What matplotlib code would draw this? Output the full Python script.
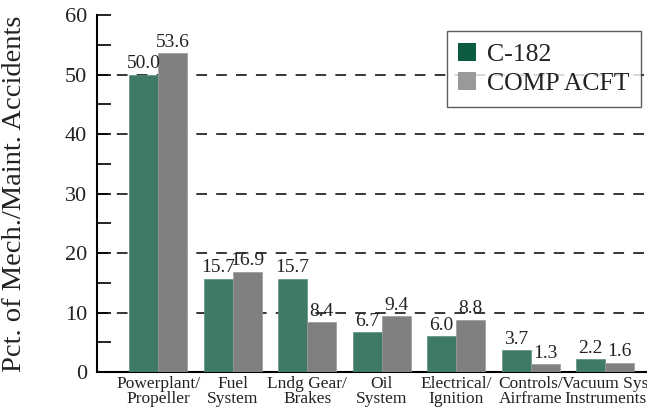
import numpy as np
import matplotlib
matplotlib.use('Agg')
import matplotlib.pyplot as plt
from matplotlib.patches import Patch

categories = ['Powerplant/\nPropeller', 'Fuel\nSystem', 'Lndg Gear/\nBrakes', 'Oil\nSystem',
              'Electrical/\nIgnition', 'Controls/\nAirframe', 'Vacuum Sys\nInstruments']
c182 = [50.0, 15.7, 15.7, 6.7, 6.0, 3.7, 2.2]
comp_acft = [53.6, 16.9, 8.4, 9.4, 8.8, 1.3, 1.6]
series_names = ['C-182', 'COMP ACFT']

plt.rcParams['font.family'] = ['Liberation Serif', 'DejaVu Serif']

green = '#3f7a66'
gray = '#808080'

fig = plt.figure(figsize=(6.47, 4.2), dpi=100)
ax = fig.add_axes([0.150, 0.114, 0.850, 0.850])

x = np.arange(len(categories))
w = 0.39
b1 = ax.bar(x - w/2, c182, w, color=green, edgecolor='#5f8f7f', linewidth=0.5, zorder=3)
b2 = ax.bar(x + w/2, comp_acft, w, color=gray, edgecolor='#9a9a9a', linewidth=0.5, zorder=3)

for bars, vals in [(b1, c182), (b2, comp_acft)]:
    for r, v in zip(bars, vals):
        ax.text(r.get_x() + r.get_width()/2, v + 0.4, f'{v:.1f}', ha='center', va='bottom',
                fontsize=14, color='#222222', zorder=4)

ax.set_xlim(-0.82, 6.56)
ax.set_ylim(0, 60)
ax.set_yticks(np.arange(0, 61, 10))
ax.set_yticks(np.arange(5, 60, 10), minor=True)
ax.tick_params(axis='y', which='both', direction='in', length=10, width=1.2, labelsize=16,
               pad=7, labelcolor='#222222')
ax.tick_params(axis='x', length=0, labelsize=12.5, pad=3, labelcolor='#222222')
ax.set_xticks(x)
ax.set_xticklabels(categories, linespacing=0.92)

for yv in range(10, 60, 10):
    ax.axhline(yv, color='black', linewidth=1.1, linestyle=(0, (7, 6)), zorder=1)

for s in ['top', 'right']:
    ax.spines[s].set_visible(False)
for s in ['left', 'bottom']:
    ax.spines[s].set_linewidth(1.5)

ax.set_ylabel('Pct. of Mech./Maint. Accidents', fontsize=20.5, color='#222222')
ax.yaxis.set_label_coords(-0.128, 0.5)

handles = [Patch(facecolor='#0b5c42'), Patch(facecolor='#999999')]
leg = ax.legend(handles, series_names, loc='upper left', bbox_to_anchor=(0.636, 0.955),
                fontsize=18.5, frameon=True, fancybox=False, edgecolor='#333333',
                handlelength=0.7, handleheight=0.7, handletextpad=0.4,
                borderpad=0.45, labelspacing=0.25, borderaxespad=0)
leg.get_frame().set_linewidth(1.0)
for t in leg.get_texts():
    t.set_color('#222222')

fig.savefig('out.png', dpi=100)
